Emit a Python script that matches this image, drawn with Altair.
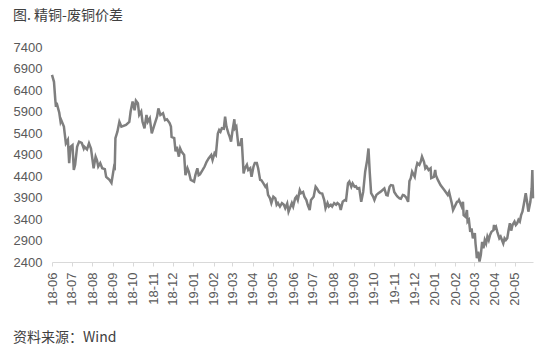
import altair as alt
import pandas as pd

dates = [
    # 2018
    "2018-06-01","2018-06-04","2018-06-06","2018-06-07","2018-06-08","2018-06-12","2018-06-14","2018-06-15","2018-06-19","2018-06-22","2018-06-25","2018-06-27","2018-06-29",
    "2018-07-02","2018-07-04","2018-07-06","2018-07-09","2018-07-12","2018-07-16","2018-07-19","2018-07-20","2018-07-24","2018-07-27","2018-07-30",
    "2018-08-03","2018-08-06","2018-08-08","2018-08-10","2018-08-13","2018-08-16","2018-08-20","2018-08-22","2018-08-27","2018-08-30",
    "2018-09-03","2018-09-04","2018-09-05","2018-09-08","2018-09-11","2018-09-14","2018-09-21","2018-09-26","2018-09-28",
    "2018-10-01","2018-10-04","2018-10-06","2018-10-09","2018-10-11","2018-10-14","2018-10-16","2018-10-19","2018-10-22","2018-10-24","2018-10-27","2018-10-30",
    "2018-11-03","2018-11-07","2018-11-09","2018-11-12","2018-11-16","2018-11-19","2018-11-22","2018-11-26","2018-11-28","2018-11-29",
    "2018-12-03","2018-12-05","2018-12-07","2018-12-10","2018-12-12","2018-12-14","2018-12-18","2018-12-20","2018-12-23","2018-12-25","2018-12-28",
    # 2019
    "2019-01-02","2019-01-04","2019-01-07","2019-01-09","2019-01-11","2019-01-15","2019-01-18","2019-01-21","2019-01-24","2019-01-28","2019-01-30",
    "2019-02-02","2019-02-04","2019-02-07","2019-02-09","2019-02-11","2019-02-13","2019-02-16","2019-02-18","2019-02-20","2019-02-23","2019-02-25","2019-02-27",
    "2019-03-01","2019-03-04","2019-03-05","2019-03-07","2019-03-10","2019-03-13","2019-03-15","2019-03-18","2019-03-20","2019-03-23","2019-03-25","2019-03-28","2019-03-30",
    "2019-04-02","2019-04-04","2019-04-07","2019-04-09","2019-04-12","2019-04-14","2019-04-17","2019-04-20","2019-04-22","2019-04-24","2019-04-27","2019-04-29",
    "2019-05-02","2019-05-05","2019-05-07","2019-05-09","2019-05-12","2019-05-15","2019-05-18","2019-05-20","2019-05-23","2019-05-25","2019-05-30",
    "2019-06-01","2019-06-04","2019-06-06","2019-06-08","2019-06-11","2019-06-13","2019-06-16","2019-06-18","2019-06-21","2019-06-23","2019-06-26","2019-06-28",
    "2019-07-02","2019-07-05","2019-07-07","2019-07-10","2019-07-12","2019-07-15","2019-07-18","2019-07-20","2019-07-23","2019-07-25","2019-07-28","2019-07-30",
    "2019-08-02","2019-08-05","2019-08-07","2019-08-10","2019-08-12","2019-08-15","2019-08-18","2019-08-20","2019-08-23","2019-08-25","2019-08-28","2019-08-30",
    "2019-09-02","2019-09-04","2019-09-06","2019-09-09","2019-09-12","2019-09-15","2019-09-18","2019-09-21","2019-09-23","2019-09-25","2019-09-27","2019-09-30",
    "2019-10-02","2019-10-05","2019-10-08","2019-10-11","2019-10-14","2019-10-17","2019-10-20","2019-10-22","2019-10-25","2019-10-27","2019-10-30",
    "2019-11-01","2019-11-04","2019-11-06","2019-11-09","2019-11-11","2019-11-14","2019-11-16","2019-11-19","2019-11-22","2019-11-24","2019-11-26","2019-11-28",
    "2019-12-02","2019-12-04","2019-12-06","2019-12-09","2019-12-11","2019-12-13","2019-12-16","2019-12-18","2019-12-20","2019-12-23","2019-12-26","2019-12-27","2019-12-31",
    # 2020
    "2020-01-02","2020-01-03","2020-01-06","2020-01-10","2020-01-16","2020-01-21","2020-01-23","2020-01-27","2020-01-29",
    "2020-02-03","2020-02-04","2020-02-06","2020-02-07","2020-02-11","2020-02-13","2020-02-14","2020-02-17","2020-02-19","2020-02-20","2020-02-22","2020-02-24","2020-02-26","2020-02-28",
    "2020-03-02","2020-03-03","2020-03-04","2020-03-05","2020-03-07","2020-03-09","2020-03-11","2020-03-13","2020-03-15","2020-03-17","2020-03-19","2020-03-21","2020-03-23","2020-03-25","2020-03-27","2020-03-30","2020-03-31",
    "2020-04-01","2020-04-03","2020-04-05","2020-04-08","2020-04-10","2020-04-12","2020-04-14","2020-04-16","2020-04-18","2020-04-20","2020-04-22","2020-04-24","2020-04-26","2020-04-28",
    "2020-05-01","2020-05-03","2020-05-05","2020-05-07","2020-05-09","2020-05-11","2020-05-13","2020-05-15","2020-05-18","2020-05-20","2020-05-22","2020-05-25","2020-05-27","2020-05-28","2020-05-29",
]

spread = [
    # 2018
    6750,6590,6170,6010,6100,5870,5660,5700,5550,5160,5240,4700,5080,
    5120,4540,4660,5080,5200,5170,5040,5080,5020,5160,5040,
    4580,4850,4770,4620,4700,4580,4560,4380,4310,4240,
    4620,4600,5280,5430,5660,5550,5590,5660,5900,
    6130,5930,6150,6090,5820,5900,5660,5510,5820,5660,5740,5390,
    5590,5780,5970,5820,5860,5700,5720,5630,5550,5310,
    5280,4970,5080,4850,5040,4970,4890,4420,4580,4500,4310,
    # 2019
    4270,4420,4580,4420,4440,4540,4620,4730,4810,4890,4770,
    4930,4890,5390,5470,5430,5510,5500,5780,5550,5390,5310,5200,
    5430,5720,5510,5550,5120,5120,5280,4460,4580,4660,4540,4580,4380,
    4620,4700,4700,4580,4310,4300,4230,4150,4190,3960,3880,3770,
    3920,3880,3730,3770,3690,3770,3730,3650,3760,3570,3770,
    3690,3880,3920,3840,4070,4000,4030,3920,3840,3730,3610,3840,
    3920,4150,4110,4030,4000,3990,3840,3650,3770,3690,3730,3690,
    3770,3730,3770,3730,3610,3800,3840,3830,4230,4270,4150,4230,
    4150,4160,4110,4120,3800,4030,4500,4770,5040,4460,4000,3920,
    3840,3960,4000,4030,4070,4110,3960,3950,4150,4190,4180,
    4030,3960,3920,3880,3870,3960,3950,3900,3800,4280,4350,4500,
    4380,4580,4700,4660,4730,4850,4730,4580,4620,4540,4580,4350,4380,
    # 2020
    4540,4420,4310,4190,4070,3960,4030,3770,3610,
    3770,3800,3810,3840,3690,3800,3490,3450,3610,3340,3380,3100,3180,2950,
    3070,2830,2680,2490,2640,2410,2560,2870,2720,2910,2830,2990,2910,3030,3100,3140,3260,
    3180,3220,3100,2950,2990,2910,2830,2950,2910,2950,3140,3300,3130,3260,
    3340,3260,3300,3380,3340,3490,3570,3730,4000,3800,3570,3800,4110,4540,3880,
]

tick_months = ["2018-06","2018-07","2018-08","2018-09","2018-10","2018-11","2018-12",
               "2019-01","2019-02","2019-03","2019-04","2019-05","2019-06","2019-07",
               "2019-08","2019-09","2019-10","2019-11","2019-12","2020-01","2020-02",
               "2020-03","2020-04","2020-05"]

y_ticks = [2400, 2900, 3400, 3900, 4400, 4900, 5400, 5900, 6400, 6900, 7400]

title_text = "图. 精铜-废铜价差"
source_text = "资料来源：Wind"

df = pd.DataFrame({"date": dates, "spread": spread})

tick_values = [alt.DateTime(year=int(m[:4]), month=int(m[5:]), date=1, utc=True) for m in tick_months]

x_enc = alt.X(
    "date:T",
    scale=alt.Scale(type="utc",
                    domain=[alt.DateTime(year=2018, month=6, date=1, utc=True),
                            alt.DateTime(year=2020, month=5, date=29, utc=True)]),
    axis=alt.Axis(values=tick_values, format="%y-%m", labelAngle=-90, title=None,
                  grid=False, domainColor="#d9d9d9", tickColor="#d9d9d9", tickSize=4,
                  labelFont="Liberation Sans", labelFontSize=13, labelColor="#595959",
                  labelPadding=6, labelOverlap=False),
)
y_enc = alt.Y(
    "spread:Q",
    scale=alt.Scale(domain=[2400, 7400], nice=False, zero=False),
    axis=alt.Axis(values=y_ticks, format="d", title=None, grid=False, domain=False, ticks=False,
                  labelFont="Liberation Sans", labelFontSize=13, labelColor="#595959",
                  labelPadding=10),
)

line = alt.Chart(df).mark_line(color="#7f7f7f", strokeWidth=2.5).encode(x=x_enc, y=y_enc)

title = alt.Chart(pd.DataFrame({"t": [title_text]})).mark_text(
    align="left", baseline="middle", font="Noto Sans CJK SC", fontSize=14, color="#404040"
).encode(x=alt.value(-39), y=alt.value(-31), text="t:N")

source = alt.Chart(pd.DataFrame({"t": [source_text]})).mark_text(
    align="left", baseline="middle", font="Noto Sans CJK SC", fontSize=14, color="#404040"
).encode(x=alt.value(-39), y=alt.value(291), text="t:N")

chart = alt.layer(line, title, source).properties(
    width=481, height=215,
    autosize=alt.AutoSizeParams(type="none"),
    padding={"left": 52, "top": 47, "right": 20, "bottom": 93},
    background="white",
).configure_view(stroke=None)

chart.save("out.html", embed_options={"renderer": "svg", "actions": False})
